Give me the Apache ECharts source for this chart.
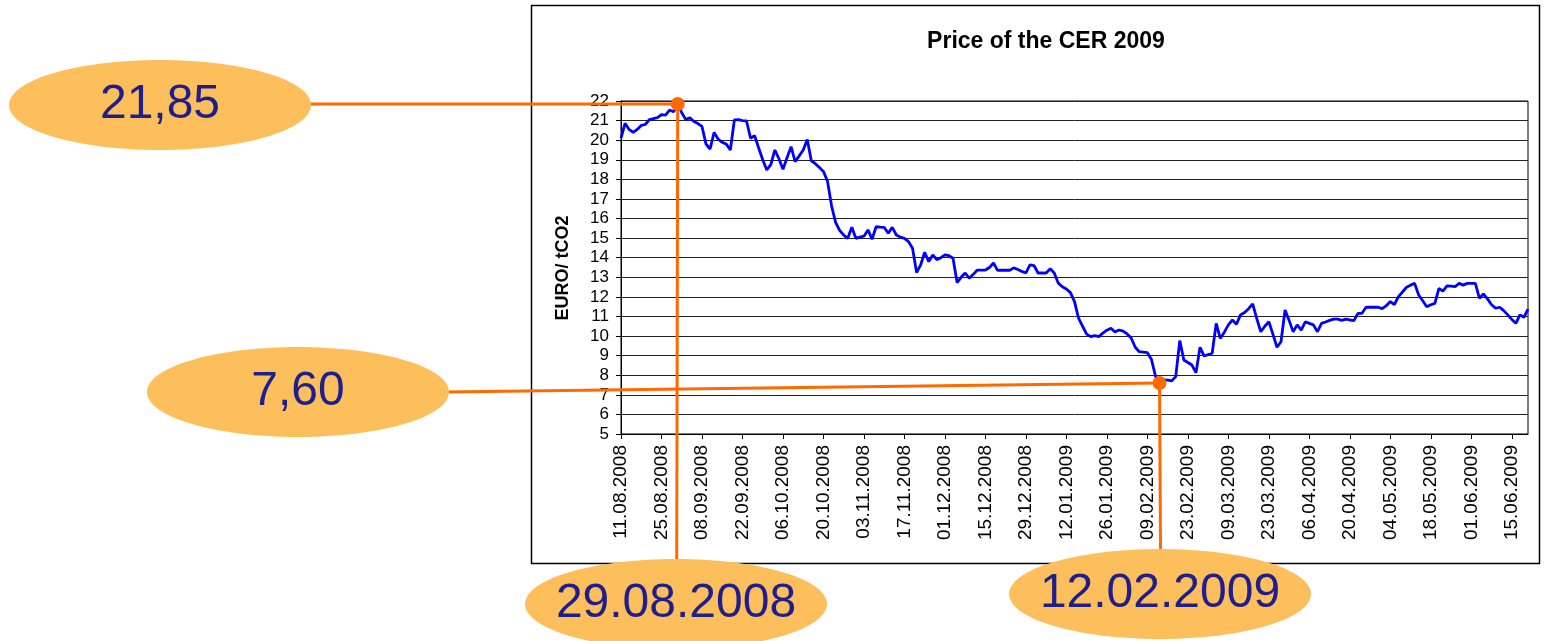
<!DOCTYPE html>
<html>
<head>
<meta charset="utf-8">
<script src="https://cdn.jsdelivr.net/npm/echarts@6/dist/echarts.min.js"></script>
<style>
  html, body { margin: 0; padding: 0; background: #fff; }
  #chart { width: 1552px; height: 641px; }
</style>
</head>
<body>
<div id="chart"></div>
<script>
// CER Dec-2009 price, EUR/tCO2, one value per trading day from 11.08.2008
const prices = [
  20.10, 20.86, 20.55, 20.40, 20.55, 20.75, 20.80, 21.05, 21.10, 21.15,
  21.30, 21.28, 21.54, 21.45, 21.85, 21.40, 21.05, 21.15, 20.95, 20.85,
  20.70, 19.80, 19.55, 20.40, 20.05, 19.89, 19.80, 19.50, 21.03, 21.05,
  21.00, 20.98, 20.10, 20.23, 19.60, 19.00, 18.48, 18.75, 19.50, 19.05,
  18.51, 19.10, 19.67, 18.90, 19.20, 19.50, 20.04, 18.95, 18.80, 18.60,
  18.40, 17.90, 16.65, 15.80, 15.40, 15.15, 14.99, 15.55, 14.99, 15.05,
  15.10, 15.42, 14.94, 15.58, 15.56, 15.55, 15.25, 15.55, 15.16, 15.05,
  14.99, 14.82, 14.48, 13.24, 13.63, 14.28, 13.80, 14.14, 13.90, 14.00,
  14.14, 14.10, 13.97, 12.73, 13.00, 13.22, 12.95, 13.15, 13.37, 13.37,
  13.37, 13.50, 13.73, 13.35, 13.36, 13.36, 13.36, 13.48, 13.40, 13.30,
  13.22, 13.63, 13.60, 13.22, 13.22, 13.22, 13.44, 13.22, 12.70, 12.52,
  12.40, 12.22, 11.76, 10.91, 10.50, 10.10, 9.97, 10.02, 9.97, 10.15,
  10.30, 10.40, 10.21, 10.31, 10.25, 10.11, 9.90, 9.43, 9.20, 9.18,
  9.15, 8.81, 7.95, 7.60, 7.76, 7.75, 7.71, 7.93, 9.77, 8.78,
  8.65, 8.52, 8.13, 9.43, 8.98, 9.05, 9.12, 10.65, 9.88, 10.20,
  10.57, 10.82, 10.60, 11.08, 11.20, 11.40, 11.64, 10.90, 10.22, 10.50,
  10.73, 10.10, 9.43, 9.71, 11.33, 10.80, 10.22, 10.57, 10.30, 10.73,
  10.65, 10.57, 10.22, 10.65, 10.72, 10.80, 10.86, 10.86, 10.80, 10.86,
  10.82, 10.79, 11.16, 11.16, 11.47, 11.47, 11.47, 11.47, 11.40, 11.55,
  11.76, 11.60, 12.01, 12.25, 12.49, 12.60, 12.69, 12.10, 11.80, 11.50,
  11.60, 11.67, 12.43, 12.30, 12.56, 12.55, 12.52, 12.69, 12.60, 12.69,
  12.69, 12.69, 11.93, 12.15, 11.90, 11.60, 11.42, 11.47, 11.30, 11.08,
  10.85, 10.65, 11.08, 10.96, 11.37
];

// trading days (Mon-Fri) starting 11.08.2008
const dates = [];
const d = new Date(Date.UTC(2008, 7, 11));
while (dates.length < prices.length) {
  const wd = d.getUTCDay();
  if (wd !== 0 && wd !== 6) {
    const dd = String(d.getUTCDate()).padStart(2, '0');
    const mm = String(d.getUTCMonth() + 1).padStart(2, '0');
    dates.push(dd + '.' + mm + '.' + d.getUTCFullYear());
  }
  d.setUTCDate(d.getUTCDate() + 1);
}

const callouts = [
  { date: '29.08.2008', price: 21.85, priceText: '21,85' },
  { date: '12.02.2009', price: 7.60, priceText: '7,60' }
];

const font = '"Liberation Sans", Arial, sans-serif';
const orange = '#ff6a00';
const bubble = '#fdbf5b';
const navy = '#1e1e8c';

const chart = echarts.init(document.getElementById('chart'));
chart.setOption({
  animation: false,
  grid: { left: 621, right: 24, top: 101, bottom: 207, show: true, borderColor: '#000', borderWidth: 1 },
  xAxis: {
    type: 'category',
    data: dates,
    boundaryGap: false,
    axisLine: { lineStyle: { color: '#000', width: 1 } },
    axisTick: { interval: 9, length: 5, lineStyle: { color: '#000' } },
    axisLabel: { interval: 9, rotate: 90, margin: 11, color: '#000', fontSize: 19, fontFamily: font },
    splitLine: { show: false }
  },
  yAxis: {
    type: 'value',
    min: 5, max: 22, interval: 1,
    axisLine: { show: true, lineStyle: { color: '#000', width: 1 } },
    axisTick: { show: true, length: 5, lineStyle: { color: '#000' } },
    axisLabel: { margin: 12, color: '#000', fontSize: 17, fontFamily: font },
    splitLine: { lineStyle: { color: '#222', width: 1 } }
  },
  series: [{
    type: 'line',
    data: prices,
    showSymbol: false,
    lineStyle: { color: '#0000ff', width: 2.8 },
    z: 3
  }]
});

// annotations anchored to the data points
const p1 = chart.convertToPixel({ gridIndex: 0 }, [dates.indexOf(callouts[0].date), callouts[0].price]);
const p2 = chart.convertToPixel({ gridIndex: 0 }, [dates.indexOf(callouts[1].date), callouts[1].price]);

function bubbleWithText(cx, cy, text) {
  return [
    { type: 'ellipse', shape: { cx: cx, cy: cy, rx: 151, ry: 45 }, style: { fill: bubble }, z: 20 },
    { type: 'text', x: cx, y: cy, z: 21,
      style: { text: text, font: '48px ' + font, fill: navy, align: 'center', verticalAlign: 'middle', textAlign: 'center', textVerticalAlign: 'middle' } }
  ];
}

const ln = (x1, y1, x2, y2) => ({ type: 'line', z: 15, shape: { x1, y1, x2, y2 }, style: { stroke: orange, lineWidth: 3 } });

chart.setOption({
  graphic: [
    { type: 'rect', shape: { x: 531.5, y: 5.5, width: 1008, height: 558 }, style: { fill: null, stroke: '#000', lineWidth: 1.5 }, z: 1 },
    { type: 'text', x: 1046, y: 42, z: 5,
      style: { text: 'Price of the CER 2009', font: 'bold 23px ' + font, fill: '#000', align: 'center', verticalAlign: 'middle', textAlign: 'center', textVerticalAlign: 'middle' } },
    { type: 'text', x: 563, y: 268, rotation: Math.PI / 2, z: 5,
      style: { text: 'EURO/ tCO2', font: 'bold 18px ' + font, fill: '#000', align: 'center', verticalAlign: 'middle', textAlign: 'center', textVerticalAlign: 'middle' } },
    ln(310, p1[1], p1[0], p1[1]),
    ln(p1[0], p1[1], p1[0] - 1, 570),
    ln(446, 392, p2[0], p2[1]),
    ln(p2[0], p2[1], p2[0] + 1, 555),
    { type: 'circle', shape: { cx: p1[0], cy: p1[1], r: 7 }, style: { fill: orange }, z: 16 },
    { type: 'circle', shape: { cx: p2[0], cy: p2[1], r: 7 }, style: { fill: orange }, z: 16 },
    ...bubbleWithText(160, 105, callouts[0].priceText),
    ...bubbleWithText(298, 392, callouts[1].priceText),
    ...bubbleWithText(676, 604, callouts[0].date),
    ...bubbleWithText(1160, 594, callouts[1].date)
  ]
});
</script>
</body>
</html>
